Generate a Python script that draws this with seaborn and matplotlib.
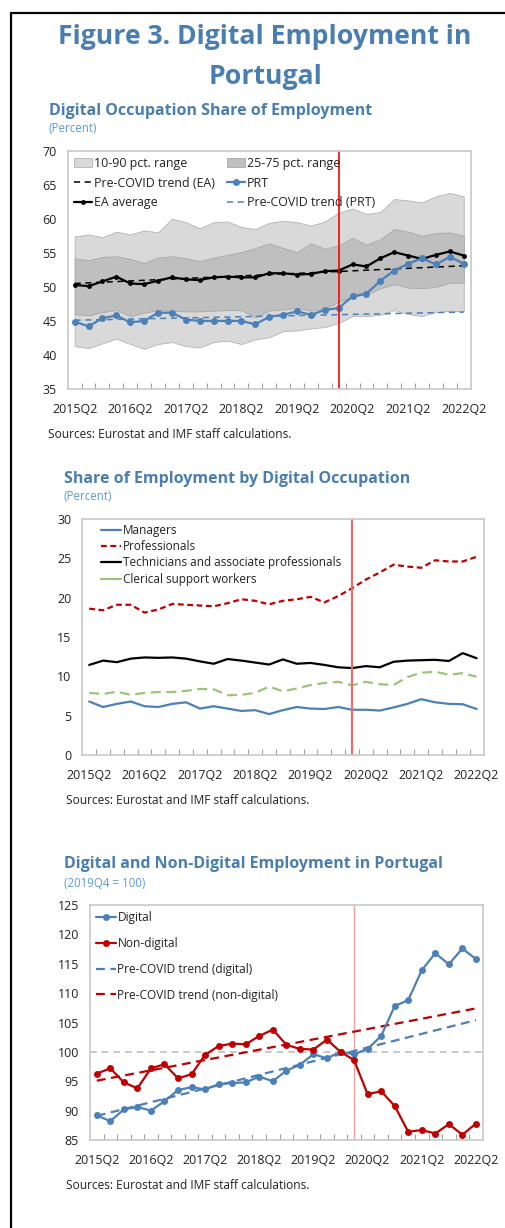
import numpy as np
import pandas as pd
import matplotlib.pyplot as plt
from matplotlib.lines import Line2D
from matplotlib.patches import Patch
import seaborn as sns

sns.set_theme(style="white")
plt.rcParams["font.family"] = ["Open Sans", "DejaVu Sans"]

# --- Data ---
quarters = [
    "2015Q2", "2015Q3", "2015Q4", "2016Q1", "2016Q2", "2016Q3", "2016Q4", "2017Q1",
    "2017Q2", "2017Q3", "2017Q4", "2018Q1", "2018Q2", "2018Q3", "2018Q4", "2019Q1",
    "2019Q2", "2019Q3", "2019Q4", "2020Q1", "2020Q2", "2020Q3", "2020Q4", "2021Q1",
    "2021Q2", "2021Q3", "2021Q4", "2022Q1", "2022Q2",
]
covid_quarter = "2020Q1"

# Chart 1: digital occupation share of employment
p10 = [41.3, 41.0, 41.7, 42.4, 41.6, 40.9, 41.6, 41.9, 41.3, 41.1, 41.9, 42.1, 41.6, 42.3,
       42.6, 43.5, 43.6, 43.9, 44.1, 44.7, 45.7, 45.7, 45.9, 46.6, 46.0, 45.7, 46.3, 46.5, 46.4]
p25 = [46.0, 45.8, 46.3, 46.6, 45.7, 46.2, 46.6, 46.5, 46.4, 46.4, 46.5, 46.6, 46.6, 45.5,
       46.5, 46.7, 46.9, 46.5, 46.8, 47.8, 48.6, 48.9, 49.8, 50.4, 49.9, 49.8, 50.0, 50.6, 50.6]
p75 = [54.2, 53.9, 54.4, 54.5, 54.1, 53.5, 54.3, 54.5, 54.2, 53.8, 54.3, 54.7, 55.1, 55.7,
       56.4, 55.7, 55.1, 56.4, 55.6, 56.1, 57.2, 56.2, 57.0, 58.5, 58.1, 57.5, 57.9, 58.0, 57.5]
p90 = [57.4, 57.7, 57.3, 58.1, 57.7, 58.3, 58.0, 60.0, 59.5, 58.6, 59.5, 59.6, 58.8, 58.5,
       59.4, 59.7, 59.5, 59.0, 59.6, 60.9, 61.5, 60.7, 61.0, 62.9, 62.7, 62.4, 63.3, 63.8, 63.3]
ea_average = [50.3, 50.1, 50.8, 51.5, 50.5, 50.4, 50.9, 51.4, 51.1, 51.0, 51.4, 51.5, 51.4, 51.4,
              52.0, 52.0, 51.8, 51.9, 52.3, 52.4, 53.3, 53.0, 54.2, 55.1, 54.6, 54.1, 54.7, 55.2, 54.6]
prt = [44.9, 44.2, 45.4, 45.8, 44.8, 45.0, 46.2, 46.2, 45.2, 45.0, 45.0, 45.0, 45.0, 44.5,
       45.6, 45.9, 46.4, 45.9, 46.6, 46.9, 48.6, 49.0, 50.9, 52.4, 53.4, 54.2, 53.3, 54.4, 53.4]
trend_ends = ["2015Q2", "2022Q2"]
ea_trend = [50.5, 53.1]
prt_trend = [45.1, 46.3]

# Chart 2: share of employment by digital occupation
managers = [6.8, 6.1, 6.5, 6.8, 6.2, 6.1, 6.5, 6.7, 5.9, 6.2, 5.9, 5.6, 5.7, 5.2, 5.7,
            6.1, 5.9, 5.85, 6.1, 5.75, 5.75, 5.65, 6.05, 6.5, 7.1, 6.7, 6.5, 6.45, 5.85]
professionals = [18.6, 18.4, 19.1, 19.1, 18.1, 18.5, 19.2, 19.1, 19.0, 18.9, 19.3, 19.8, 19.6, 19.15,
                 19.6, 19.8, 20.1, 19.4, 20.2, 21.2, 22.3, 23.2, 24.2, 23.95, 23.8, 24.75, 24.6, 24.6, 25.2]
technicians = [11.45, 12.0, 11.8, 12.25, 12.4, 12.35, 12.4, 12.25, 11.9, 11.6, 12.2, 12.0, 11.75, 11.5,
               12.15, 11.6, 11.7, 11.45, 11.15, 11.05, 11.3, 11.15, 11.85, 12.0, 12.05, 12.1, 11.95, 12.95, 12.3]
clerical = [7.9, 7.75, 8.05, 7.65, 7.9, 8.0, 8.0, 8.15, 8.4, 8.35, 7.6, 7.65, 7.9, 8.7, 8.1,
            8.45, 8.9, 9.15, 9.3, 8.85, 9.3, 9.0, 8.9, 9.9, 10.45, 10.6, 10.2, 10.4, 9.95]

# Chart 3: digital and non-digital employment (2019Q4 = 100)
digital = [89.2, 88.2, 90.2, 90.6, 90.0, 91.6, 93.5, 94.0, 93.6, 94.5, 94.7, 94.8, 95.8, 95.0,
           96.8, 97.8, 99.6, 98.9, 100.0, 99.6, 100.5, 102.7, 107.8, 108.8, 113.9, 116.8, 114.9, 117.6, 115.8]
non_digital = [96.3, 97.2, 94.8, 93.8, 97.2, 97.9, 95.5, 96.2, 99.5, 101.0, 101.4, 101.3, 102.7, 103.8,
               101.2, 100.5, 100.4, 102.1, 100.0, 98.6, 92.8, 93.3, 90.8, 86.4, 86.7, 86.1, 87.7, 85.9, 87.8]
digital_trend = [89.1, 105.4]
non_digital_trend = [95.1, 107.4]
base_level = 100

# --- Styling ---
title_blue = "#4a7eb1"
sub_blue = "#5a9bd5"
line_blue = "#4b80b8"
dark_red = "#c00000"
green = "#9bc47a"
spine_grey = "#c8c8c8"
text_col = "#222222"

idx = np.arange(len(quarters))
covid_idx = quarters.index(covid_quarter)
trend_idx = [quarters.index(q) for q in trend_ends]
label_idx = idx[::4]
df = pd.DataFrame({"idx": idx, "ea": ea_average, "prt": prt, "managers": managers,
                   "professionals": professionals, "technicians": technicians,
                   "clerical": clerical, "digital": digital, "non_digital": non_digital})

fig = plt.figure(figsize=(5.06, 12.28), dpi=100)
W, H = 506, 1228


def fx(px):
    return px / W


def fy(py):
    return 1 - py / H


def style_axes(ax, ymin, ymax, ystep, yticks_in=False):
    ax.set_xlim(-0.5, len(quarters) - 0.5)
    ax.set_ylim(ymin, ymax)
    ax.set_yticks(np.arange(ymin, ymax + 0.1, ystep))
    ax.set_xticks(label_idx)
    ax.set_xticklabels([quarters[i] for i in label_idx])
    ax.set_xticks(idx[:-1] + 0.5, minor=True)
    ax.tick_params(axis="x", which="major", length=0, pad=10, labelsize=9, labelcolor=text_col)
    ax.tick_params(axis="x", which="minor", direction="in", length=4, width=0.8,
                   color="#a0a0a0", bottom=True)
    ax.tick_params(axis="y", which="major", labelsize=9, labelcolor=text_col,
                   length=3 if yticks_in else 0, direction="in", color="#a0a0a0", pad=8)
    for s in ax.spines.values():
        s.set_color(spine_grey)
        s.set_linewidth(1.2)
    ax.set_xlabel("")
    ax.set_ylabel("")
    ax.grid(False)


src_text = "Sources: Eurostat and IMF staff calculations."

# --- Titles ---
fig.text(fx(265), fy(44), "Figure 3. Digital Employment in", ha="center", va="baseline",
         fontsize=19.2, fontweight="bold", color=title_blue)
fig.text(fx(266), fy(84), "Portugal", ha="center", va="baseline",
         fontsize=19.2, fontweight="bold", color=title_blue)

# --- Chart 1 ---
fig.text(fx(49), fy(115), "Digital Occupation Share of Employment", ha="left", va="baseline",
         fontsize=11.5, fontweight="bold", color=title_blue)
fig.text(fx(49), fy(132), "(Percent)", ha="left", va="baseline", fontsize=8.3, color=sub_blue)

ax1 = fig.add_axes([fx(67.7), fy(389), fx(470.7) - fx(67.7), fy(150.7) - fy(389)])
ax1.fill_between(idx, p10, p90, facecolor="#d9d9d9", edgecolor="#b4b4b4", linewidth=0.6)
ax1.fill_between(idx, p25, p75, facecolor="#bfbfbf", edgecolor="#a8a8a8", linewidth=0.6)
sns.lineplot(x=trend_idx, y=ea_trend, ax=ax1, color="black", linestyle=(0, (4, 3)), linewidth=1.1)
sns.lineplot(x=trend_idx, y=prt_trend, ax=ax1, color=line_blue, linestyle=(0, (4, 3)), linewidth=1.1)
sns.lineplot(data=df, x="idx", y="ea", ax=ax1, color="black", linewidth=1.6,
             marker="o", markersize=3.5, markeredgewidth=0)
sns.lineplot(data=df, x="idx", y="prt", ax=ax1, color=line_blue, linewidth=1.6,
             marker="o", markersize=5, markeredgewidth=0)
ax1.axvline(covid_idx, color="#ff0000", linewidth=1.2)
style_axes(ax1, 35, 70, 5, yticks_in=True)
h1 = [Patch(facecolor="#d9d9d9", edgecolor="#b4b4b4", linewidth=0.6),
      Line2D([], [], color="black", linestyle=(0, (4, 3)), linewidth=1.1),
      Line2D([], [], color="black", linewidth=1.6, marker="o", markersize=3.5, markeredgewidth=0),
      Patch(facecolor="#bfbfbf", edgecolor="#a8a8a8", linewidth=0.6),
      Line2D([], [], color=line_blue, linewidth=1.6, marker="o", markersize=5, markeredgewidth=0),
      Line2D([], [], color=line_blue, linestyle=(0, (4, 3)), linewidth=1.1)]
l1 = ["10-90 pct. range", "Pre-COVID trend (EA)", "EA average",
      "25-75 pct. range", "PRT", "Pre-COVID trend (PRT)"]
ax1.legend(h1, l1, ncol=2, loc="upper left", bbox_to_anchor=(0.0, 1.0), frameon=False,
           fontsize=8.9, handlelength=1.45, handletextpad=0.15, columnspacing=1.0,
           labelspacing=0.55, borderaxespad=0.3, borderpad=0.2, labelcolor=text_col)
fig.text(fx(48), fy(438), src_text, ha="left", va="baseline", fontsize=8.6, color=text_col)

# --- Chart 2 ---
fig.text(fx(64), fy(483), "Share of Employment by Digital Occupation", ha="left", va="baseline",
         fontsize=11.5, fontweight="bold", color=title_blue)
fig.text(fx(64), fy(500), "(Percent)", ha="left", va="baseline", fontsize=8.3, color=sub_blue)

ax2 = fig.add_axes([fx(82.3), fy(755), fx(483.5) - fx(82.3), fy(519) - fy(755)])
sns.lineplot(data=df, x="idx", y="managers", ax=ax2, color=line_blue, linewidth=1.6)
sns.lineplot(data=df, x="idx", y="professionals", ax=ax2, color=dark_red, linewidth=1.6,
             linestyle=(0, (2.6, 1.6)))
sns.lineplot(data=df, x="idx", y="technicians", ax=ax2, color="black", linewidth=1.6)
sns.lineplot(data=df, x="idx", y="clerical", ax=ax2, color=green, linewidth=1.6,
             linestyle=(0, (4.5, 2.5)))
ax2.axvline(covid_idx, color="#f06a6a", linewidth=1.6)
style_axes(ax2, 0, 30, 5)
h2 = [Line2D([], [], color=line_blue, linewidth=1.6),
      Line2D([], [], color=dark_red, linewidth=1.6, linestyle=(0, (2.6, 1.6))),
      Line2D([], [], color="black", linewidth=1.6),
      Line2D([], [], color=green, linewidth=1.6)]
l2 = ["Managers", "Professionals", "Technicians and associate professionals",
      "Clerical support workers"]
ax2.legend(h2, l2, loc="upper left", bbox_to_anchor=(0.035, 1.0), frameon=False,
           fontsize=8.5, handlelength=1.7, handletextpad=0.15, labelspacing=0.28,
           borderaxespad=0.2, borderpad=0.2, labelcolor=text_col)
fig.text(fx(66), fy(804), src_text, ha="left", va="baseline", fontsize=8.6, color=text_col)

# --- Chart 3 ---
fig.text(fx(64), fy(868), "Digital and Non-Digital Employment in Portugal", ha="left",
         va="baseline", fontsize=11.5, fontweight="bold", color=title_blue)
fig.text(fx(64), fy(887), "(2019Q4 = 100)", ha="left", va="baseline", fontsize=8.3, color=sub_blue)

ax3 = fig.add_axes([fx(90), fy(1140), fx(482.7) - fx(90), fy(905) - fy(1140)])
ax3.axhline(base_level, color="#bfbfbf", linewidth=1.2, linestyle=(0, (4, 3)))
ax3.axvline(covid_idx, color="#f4a0a0", linewidth=1.0)
sns.lineplot(x=trend_idx, y=digital_trend, ax=ax3, color=line_blue, linewidth=1.6,
             linestyle=(0, (4, 2.5)))
sns.lineplot(x=trend_idx, y=non_digital_trend, ax=ax3, color=dark_red, linewidth=1.6,
             linestyle=(0, (4, 2.5)))
sns.lineplot(data=df, x="idx", y="digital", ax=ax3, color=line_blue, linewidth=1.6,
             marker="o", markersize=5, markeredgewidth=0)
sns.lineplot(data=df, x="idx", y="non_digital", ax=ax3, color=dark_red, linewidth=1.6,
             marker="o", markersize=5, markeredgewidth=0)
style_axes(ax3, 85, 125, 5)
h3 = [Line2D([], [], color=line_blue, linewidth=1.6, marker="o", markersize=5, markeredgewidth=0),
      Line2D([], [], color=dark_red, linewidth=1.6, marker="o", markersize=5, markeredgewidth=0),
      Line2D([], [], color=line_blue, linewidth=1.6, linestyle=(0, (4, 2.5))),
      Line2D([], [], color=dark_red, linewidth=1.6, linestyle=(0, (4, 2.5)))]
l3 = ["Digital", "Non-digital", "Pre-COVID trend (digital)", "Pre-COVID trend (non-digital)"]
ax3.legend(h3, l3, loc="upper left", bbox_to_anchor=(0.0, 1.0), frameon=False,
           fontsize=8.6, handlelength=1.7, handletextpad=0.1, labelspacing=1.08,
           borderaxespad=0.3, borderpad=0.2, labelcolor=text_col)
fig.text(fx(66), fy(1189), src_text, ha="left", va="baseline", fontsize=8.6, color=text_col)

# --- Outer frame (left and top edges) ---
fig.add_artist(Line2D([fx(11), fx(11)], [0, fy(13)], color="black", linewidth=1.6,
                      transform=fig.transFigure))
fig.add_artist(Line2D([fx(11), 1], [fy(13), fy(13)], color="black", linewidth=1.6,
                      transform=fig.transFigure))

fig.savefig("out.png", dpi=100)
